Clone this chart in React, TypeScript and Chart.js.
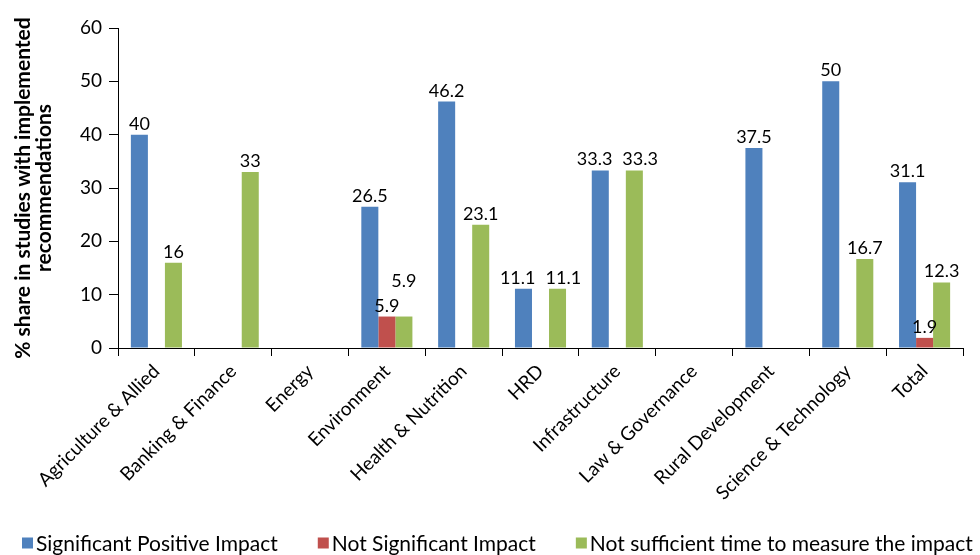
import React, { useEffect, useRef } from "react";
import { Chart, registerables } from "chart.js";

Chart.register(...registerables);

const categories = [
  "Agriculture & Allied",
  "Banking & Finance",
  "Energy",
  "Environment",
  "Health & Nutrition",
  "HRD",
  "Infrastructure",
  "Law & Governance",
  "Rural Development",
  "Science & Technology",
  "Total",
];
const significantPositive = [40, 0, 0, 26.5, 46.2, 11.1, 33.3, 0, 37.5, 50, 31.1];
const notSignificant = [0, 0, 0, 5.9, 0, 0, 0, 0, 0, 0, 1.9];
const notSufficientTime = [16, 33, 0, 5.9, 23.1, 11.1, 33.3, 0, 0, 16.7, 12.3];
const seriesNames = [
  "Significant Positive Impact",
  "Not Significant Impact",
  "Not sufficient time to measure the impact",
];
const seriesColors = ["#4F81BD", "#C0504D", "#9BBB59"];
const yTicks = [0, 10, 20, 30, 40, 50, 60];

const FONT = "Lato, 'Open Sans', sans-serif";

type Lbl = { txt: string; x: number; base: number; w: number };

const labelPlugin = {
  id: "barLabels",
  afterDatasetsDraw(chart: any) {
    const ctx = chart.ctx;
    ctx.save();
    ctx.font = `18px ${FONT}`;
    ctx.fillStyle = "#000";
    ctx.textAlign = "center";
    ctx.textBaseline = "alphabetic";
    const h = 15;
    const minGap = 10;
    const groups: Record<number, Lbl[]> = {};
    chart.data.datasets.forEach((ds: any, di: number) => {
      const meta = chart.getDatasetMeta(di);
      meta.data.forEach((bar: any, i: number) => {
        const v = ds.data[i];
        if (!v) return;
        const txt = String(v);
        const w = ctx.measureText(txt).width;
        const cur: Lbl = { txt, x: bar.x, base: bar.y - 5, w };
        const list = (groups[i] = groups[i] || []);
        for (const p of list) {
          const vOverlap = Math.min(cur.base, p.base) - Math.max(cur.base - h, p.base - h);
          if (vOverlap <= 2) continue;
          const dist = cur.x - p.x;
          const need = (cur.w + p.w) / 2 + minGap;
          if (dist < 0.8 * Math.max(cur.w, p.w)) {
            cur.base = Math.min(cur.base, p.base - 25);
          } else if (dist < need) {
            const push = (need - dist) / 2;
            p.x -= push;
            cur.x += push;
          }
        }
        list.push(cur);
      });
    });
    Object.values(groups).forEach((list) => {
      list.forEach((l) => ctx.fillText(l.txt, l.x, l.base));
    });
    ctx.restore();
  },
};

const legendPlugin = {
  id: "bottomLegend",
  afterDraw(chart: any) {
    const ctx = chart.ctx;
    ctx.save();
    ctx.font = `21px ${FONT}`;
    ctx.textAlign = "left";
    ctx.textBaseline = "middle";
    const y = 543;
    const box = 11;
    const textGap = 3;
    const itemGap = 40;
    let x = 22;
    chart.data.datasets.forEach((ds: any) => {
      ctx.fillStyle = ds.backgroundColor;
      ctx.fillRect(x, y - box / 2, box, box);
      ctx.fillStyle = "#000";
      ctx.fillText(ds.label, x + box + textGap, y + 1);
      x += box + textGap + ctx.measureText(ds.label).width + itemGap;
    });
    ctx.restore();
  },
};

export default function App() {
  const ref = useRef<HTMLCanvasElement | null>(null);
  useEffect(() => {
    if (!ref.current) return;
    const chart = new Chart(ref.current, {
      type: "bar",
      data: {
        labels: categories,
        datasets: [
          { label: seriesNames[0], data: significantPositive, backgroundColor: seriesColors[0] },
          { label: seriesNames[1], data: notSignificant, backgroundColor: seriesColors[1] },
          { label: seriesNames[2], data: notSufficientTime, backgroundColor: seriesColors[2] },
        ],
      },
      options: {
        animation: false,
        responsive: false,
        maintainAspectRatio: false,
        layout: { padding: { left: 0, right: 17, top: 28, bottom: 47 } },
        datasets: { bar: { categoryPercentage: 0.665, barPercentage: 1 } },
        plugins: {
          tooltip: { enabled: false },
          legend: { display: false },
        },
        scales: {
          x: {
            grid: { display: true, drawOnChartArea: false, offset: true, tickLength: 8, color: "#000" },
            border: { color: "#000", width: 1 },
            ticks: {
              autoSkip: false,
              maxRotation: 45,
              minRotation: 45,
              color: "#000",
              font: { family: FONT, size: 19 },
              padding: 4,
            },
            afterFit: (s: any) => {
              s.height = 160;
            },
          },
          y: {
            min: 0,
            max: 60,
            afterBuildTicks: (s: any) => {
              s.ticks = yTicks.map((v) => ({ value: v }));
            },
            grid: { display: true, drawOnChartArea: false, tickLength: 9, color: "#000" },
            border: { color: "#000", width: 1 },
            ticks: { color: "#000", font: { family: FONT, size: 19 }, padding: 7 },
            title: {
              display: true,
              text: ["% share in studies with implemented", "recommendations"],
              color: "#000",
              font: { family: FONT, size: 21, weight: "bold", lineHeight: 1.0 },
              padding: { top: 13, bottom: 0 },
            },
            afterFit: (s: any) => {
              s.width = 118;
            },
          },
        },
      },
      plugins: [labelPlugin, legendPlugin],
    });
    return () => chart.destroy();
  }, []);
  return (
    <div style={{ position: "fixed", left: 0, top: 0, width: 980, height: 555, background: "#fff" }}>
      <canvas ref={ref} width={980} height={555} />
    </div>
  );
}
